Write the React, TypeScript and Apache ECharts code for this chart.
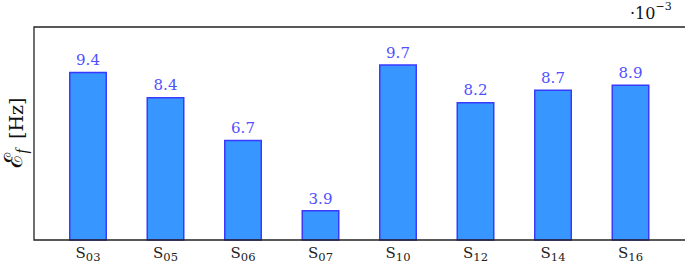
import React, { useEffect, useRef } from "react";
import * as echarts from "echarts";

const categories = ["03", "05", "06", "07", "10", "12", "14", "16"];
const values = [9.4, 8.4, 6.7, 3.9, 9.7, 8.2, 8.7, 8.9];
const yMin = 2.706;
const yMax = 11.185;
const yLabel = ["ℰ", "f", " [Hz]"];
const scaleLabel = ["·10", "−3"];

const SERIF = "Liberation Serif";
const SERIF2 = "DejaVu Serif";

export default function App() {
  const ref = useRef<HTMLDivElement>(null);
  useEffect(() => {
    if (!ref.current) return;
    const chart = echarts.init(ref.current, undefined, { renderer: "svg" });
    chart.setOption({
      animation: false,
      textStyle: { fontFamily: SERIF },
      grid: { left: 49.25, right: 15.75, top: 27, bottom: 25 },
      xAxis: {
        type: "category",
        data: categories,
        axisLine: { show: false },
        axisTick: { show: false },
        axisLabel: {
          interval: 0,
          margin: 5,
          formatter: (v: string) => `{s|S}{sub|${v}}`,
          rich: {
            s: { fontFamily: SERIF2, fontSize: 15, color: "#222", verticalAlign: "bottom" },
            sub: {
              fontFamily: SERIF2,
              fontSize: 11.5,
              color: "#222",
              verticalAlign: "bottom",
              padding: [0, 0, -3, 0],
            },
          },
        },
      },
      yAxis: {
        type: "value",
        min: yMin,
        max: yMax,
        axisLine: { show: false },
        axisTick: { show: false },
        axisLabel: { show: false },
        splitLine: { show: false },
      },
      series: [
        {
          type: "bar",
          data: values,
          barWidth: 38,
          itemStyle: { color: "#3796ff", borderColor: "#3a3aff", borderWidth: 1.5 },
          label: {
            show: true,
            position: "top",
            distance: 4,
            fontFamily: SERIF2,
            fontSize: 15,
            color: "#5050ff",
            formatter: (p: any) => p.value.toFixed(1),
          },
        },
      ],
      graphic: [
        {
          type: "rect",
          shape: { x: 34, y: 27, width: 660, height: 213 },
          style: { fill: "none", stroke: "#222", lineWidth: 1.3 },
          z: 100,
          silent: true,
        },
        {
          type: "text",
          x: 13,
          y: 133,
          rotation: Math.PI / 2,
          style: {
            text: `{e|${yLabel[0]}}{f|${yLabel[1]}}{h|${yLabel[2]}}`,
            align: "center",
            verticalAlign: "middle",
            rich: {
              e: { fontFamily: SERIF2, fontSize: 25, fill: "#111", verticalAlign: "bottom" },
              f: {
                fontFamily: SERIF,
                fontStyle: "italic",
                fontSize: 16,
                fill: "#111",
                verticalAlign: "bottom",
                padding: [0, 4, -4, 0],
              },
              h: { fontFamily: SERIF2, fontSize: 19, fill: "#111", verticalAlign: "bottom" },
            },
          },
        },
        {
          type: "text",
          x: 630,
          y: 1,
          style: {
            text: `{a|${scaleLabel[0]}}{b|${scaleLabel[1]}}`,
            rich: {
              a: { fontFamily: SERIF2, fontSize: 16, fill: "#111", verticalAlign: "bottom", padding: [4, 0, 0, 0] },
              b: { fontFamily: SERIF2, fontSize: 11, fill: "#111", verticalAlign: "top" },
            },
          },
        },
      ],
    });
    return () => chart.dispose();
  }, []);
  return (
    <div
      ref={ref}
      style={{ position: "fixed", left: 0, top: 0, width: 685, height: 265, background: "#fff" }}
    />
  );
}
